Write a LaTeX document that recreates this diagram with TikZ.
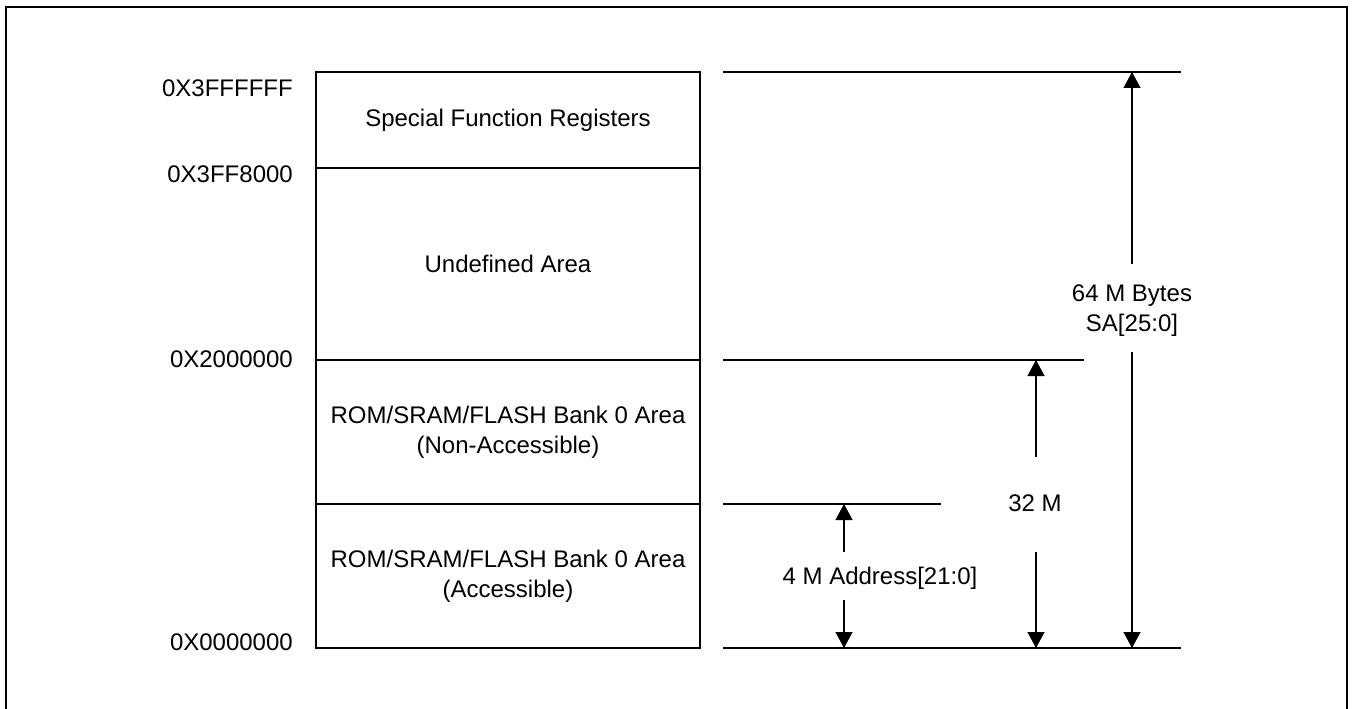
\documentclass[tikz,border=0pt]{standalone}
\usepackage{fontspec}
\setmainfont{Liberation Sans}
\usetikzlibrary{arrows.meta}
\begin{document}
\begin{tikzpicture}[x=1pt,y=-1pt,
  every node/.style={font=\fontsize{24}{30}\selectfont, inner sep=0pt, align=center},
  region/.style={draw, line width=1.5pt, minimum width=384pt},
  addr/.style={anchor=east},
  dimline/.style={line width=1.5pt},
  arr/.style={line width=1.3pt, -{Triangle[width=17pt,length=16pt]}},
]
\useasboundingbox (0,0) rectangle (1353,709);
\draw[line width=2pt] (6,7) rectangle (1347,740);

% memory regions
\node[region, minimum height=96pt]  (sfr)  at (508,120) {Special Function Registers};
\node[region, minimum height=192pt] (und)  at (508,264) {Undefined Area};
\node[region, minimum height=144pt] (nacc) at (508,432) {ROM/SRAM/FLASH Bank 0 Area\\(Non-Accessible)};
\node[region, minimum height=144pt] (acc)  at (508,576) {ROM/SRAM/FLASH Bank 0 Area\\(Accessible)};

% addresses
\node[addr] (a3) at (293,88)  {0X3FFFFFF};
\node[addr] (a2) at (293,174) {0X3FF8000};
\node[addr] (a1) at (293,359) {0X2000000};
\node[addr] (a0) at (293,642) {0X0000000};

% reference lines
\coordinate (l64s) at (723,72);  \coordinate (l64e) at (1181,72);
\coordinate (l32s) at (723,360); \coordinate (l32e) at (1084,360);
\coordinate (l4s)  at (723,504); \coordinate (l4e)  at (941,504);
\coordinate (l0s)  at (723,648); \coordinate (l0e)  at (1181,648);
\draw[dimline] (l64s) -- (l64e);
\draw[dimline] (l32s) -- (l32e);
\draw[dimline] (l4s) -- (l4e);
\draw[dimline] (l0s) -- (l0e);

% 64 M
\node (t64) at (1132,311) {64 M Bytes\\SA[25:0]};
\coordinate (u64a) at (1132,264); \coordinate (u64b) at (1132,72);
\coordinate (d64a) at (1132,352); \coordinate (d64b) at (1132,648);
\draw[arr] (u64a) -- (u64b);
\draw[arr] (d64a) -- (d64b);

% 32 M
\node (t32) at (1035,503) {32 M};
\coordinate (u32a) at (1036,457); \coordinate (u32b) at (1036,360);
\coordinate (d32a) at (1036,552); \coordinate (d32b) at (1036,648);
\draw[arr] (u32a) -- (u32b);
\draw[arr] (d32a) -- (d32b);

% 4 M
\node (t4) at (880,578) {4 M Address[21:0]};
\coordinate (u4a) at (844,552); \coordinate (u4b) at (844,504);
\coordinate (d4a) at (844,600); \coordinate (d4b) at (844,648);
\draw[arr] (u4a) -- (u4b);
\draw[arr] (d4a) -- (d4b);
\end{tikzpicture}
\end{document}
